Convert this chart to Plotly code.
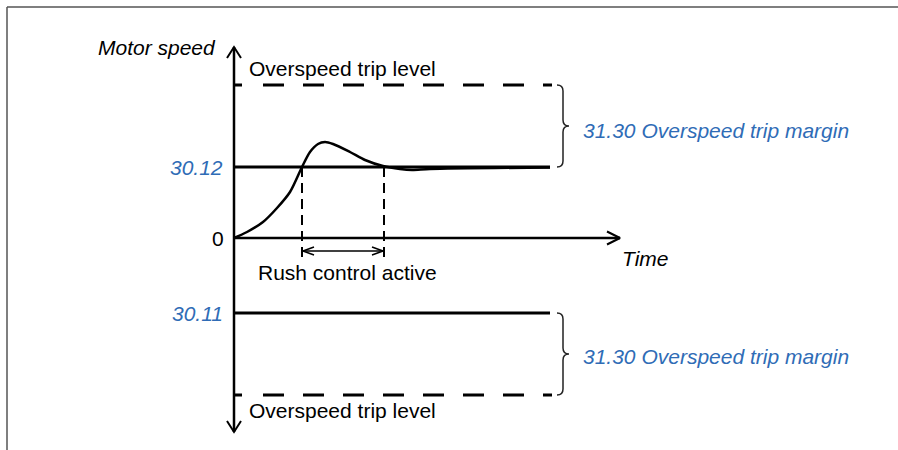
import plotly.graph_objects as go

# --- Speed/time data (time in ms, speed in rpm) ---
curve_t = [0, 13, 29, 43, 56, 68, 76, 84, 91, 99, 116, 131, 149, 166, 178, 196, 316]
curve_speed = [0, 120, 320, 600, 920, 1420, 1720, 1880, 1920, 1880, 1720, 1560,
               1440, 1380, 1360, 1380, 1410]

max_speed = 1420          # 30.12 Maximum speed
min_speed = -1500         # 30.11 Minimum speed
trip_margin = 1640        # 31.30 Overspeed trip margin
t_end = 316               # end of the level lines
rush_start, rush_end = 68, 150
axis_top, axis_bottom = 3820, -3880
time_axis_end = 386

# Pixel scaling of the plotting area (1 ms per px, 20 rpm per px)
X_RANGE = [-234, 664]
Y_RANGE = [-4240, 4760]
DX, DY = 1.0, 20.0

BLUE = "#2f6cb6"
FONT = "Liberation Sans, Arial, sans-serif"
FONT_SIZE = 21

trip_top = max_speed + trip_margin
trip_bottom = min_speed - trip_margin

fig = go.Figure()


def line(xs, ys, width=2.5, dash="solid", color="black"):
    fig.add_trace(go.Scatter(x=xs, y=ys, mode="lines", hoverinfo="skip",
                             line=dict(color=color, width=width, dash=dash),
                             showlegend=False))


def chevron(x, y, ux, uy, length, half, width=2):
    """Open arrow head at (x, y) pointing along unit direction (ux, uy) in px."""
    bx, by = x - ux * length * DX, y - uy * length * DY
    px, py = -uy * half * DX, ux * half * DY
    line([bx + px, x, bx - px], [by + py, y, by - py], width=width)


trip_dash = "8px,21px" + ",21px,19px" * 10

# Trip levels (dashed) and speed limits (solid)
line([0, t_end + 2], [trip_top, trip_top], width=3, dash=trip_dash)
line([0, t_end + 2], [trip_bottom, trip_bottom], width=3, dash=trip_dash)
line([0, t_end], [max_speed, max_speed], width=3)
line([0, t_end], [min_speed, min_speed], width=3)

# Rush control window markers
line([rush_start, rush_start], [max_speed, -400], width=2, dash="10px,6px")
line([rush_end, rush_end], [max_speed, -400], width=2, dash="10px,6px")
arrow_y = -260
line([rush_start + 1, rush_end - 1], [arrow_y, arrow_y], width=1.5)
chevron(rush_start + 1, arrow_y, -1, 0, 11, 4, width=1.5)
chevron(rush_end - 1, arrow_y, 1, 0, 11, 4, width=1.5)

# Speed response
fig.add_trace(go.Scatter(x=curve_t, y=curve_speed, mode="lines", hoverinfo="skip",
                         line=dict(color="black", width=2.5, shape="spline",
                                   smoothing=0.8),
                         showlegend=False))

# Axes with open arrow heads
line([0, 0], [axis_bottom, axis_top], width=2.5)
chevron(0, axis_top, 0, 1, 11, 7)
chevron(0, axis_bottom, 0, -1, 11, 7)
line([0, time_axis_end], [0, 0], width=2.5)
chevron(time_axis_end, 0, 1, 0, 13, 6.5)


def brace_path(x, y_hi, y_lo, w=12, r=6):
    """Right-facing curly brace from y_hi down to y_lo at x (w, r in px)."""
    ym = (y_hi + y_lo) / 2
    xm = x + w / 2 * DX
    xt = x + w * DX
    ry = r * DY
    return (f"M {x},{y_hi} Q {xm},{y_hi} {xm},{y_hi - ry} "
            f"L {xm},{ym + ry} Q {xm},{ym} {xt},{ym} "
            f"Q {xm},{ym} {xm},{ym - ry} "
            f"L {xm},{y_lo + ry} Q {xm},{y_lo} {x},{y_lo}")


shapes = [
    dict(type="path", xref="x", yref="y", path=brace_path(323, trip_top, max_speed),
         line=dict(color="#222", width=1.5)),
    dict(type="path", xref="x", yref="y", path=brace_path(323, min_speed, trip_bottom),
         line=dict(color="#222", width=1.5)),
    # frame
    dict(type="line", xref="paper", yref="paper", x0=7 / 898, x1=1, y0=1 - 7 / 450,
         y1=1 - 7 / 450, line=dict(color="#555", width=1.5)),
    dict(type="line", xref="paper", yref="paper", x0=7 / 898, x1=7 / 898, y0=0,
         y1=1 - 7 / 450, line=dict(color="#555", width=1.5)),
]


def label(text, x, y, xanchor, xshift=0, yshift=0, color="black", italic=False):
    fig.add_annotation(text=f"<i>{text}</i>" if italic else text, x=x, y=y,
                       xref="x", yref="y", showarrow=False, xanchor=xanchor,
                       yanchor="middle", xshift=xshift, yshift=yshift,
                       font=dict(family=FONT, size=FONT_SIZE, color=color))


label("Motor speed", 0, axis_top, "right", xshift=-16, italic=True)
label("Overspeed trip level", 0, trip_top, "left", xshift=13, yshift=17)
label("Overspeed trip level", 0, trip_bottom, "left", xshift=13, yshift=-15)
label("30.12", 0, max_speed, "right", xshift=-9, color=BLUE, italic=True)
label("0", 0, 0, "right", xshift=-8)
label("30.11", 0, min_speed, "right", xshift=-9, color=BLUE, italic=True)
label("Time", time_axis_end, 0, "left", xshift=0, yshift=-20, italic=True)
label("Rush control active", (rush_start + rush_end) / 2, 0, "center",
      xshift=4, yshift=-34)
label("31.30 Overspeed trip margin", 347, (trip_top + max_speed) / 2, "left",
      yshift=-4, color=BLUE, italic=True)
label("31.30 Overspeed trip margin", 347, (min_speed + trip_bottom) / 2, "left",
      yshift=-2, color=BLUE, italic=True)

fig.update_layout(
    width=898, height=450,
    margin=dict(l=0, r=0, t=0, b=0),
    paper_bgcolor="white", plot_bgcolor="white",
    xaxis=dict(range=X_RANGE, visible=False, fixedrange=True),
    yaxis=dict(range=Y_RANGE, visible=False, fixedrange=True),
    shapes=shapes,
    showlegend=False,
)

fig.write_html("out.html", config={"displayModeBar": False})
